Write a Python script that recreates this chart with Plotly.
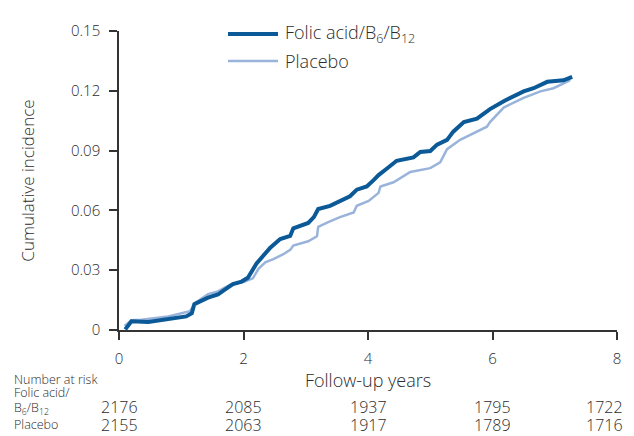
import plotly.graph_objects as go

# ---- data ----
folic_t = [0.10, 0.20, 0.47, 0.79, 1.08, 1.17, 1.21, 1.43, 1.59, 1.70, 1.83, 1.97, 2.07, 2.21,
           2.29, 2.43, 2.59, 2.75, 2.80, 3.04, 3.13, 3.20, 3.39, 3.55, 3.71, 3.82, 3.98, 4.09,
           4.17, 4.30, 4.46, 4.73, 4.84, 5.00, 5.11, 5.27, 5.37, 5.54, 5.64, 5.75, 5.96, 6.18,
           6.50, 6.66, 6.88, 7.14, 7.28]
folic_v = [0.0003, 0.0044, 0.0040, 0.0057, 0.0068, 0.0084, 0.0130, 0.0162, 0.0178, 0.0202,
           0.0230, 0.0243, 0.0262, 0.0334, 0.0364, 0.0413, 0.0456, 0.0472, 0.0510, 0.0537,
           0.0566, 0.0607, 0.0623, 0.0647, 0.0671, 0.0704, 0.0720, 0.0752, 0.0777, 0.0809,
           0.0849, 0.0866, 0.0893, 0.0898, 0.0930, 0.0954, 0.0995, 0.1043, 0.1050, 0.1060,
           0.1108, 0.1148, 0.1197, 0.1213, 0.1245, 0.1253, 0.1270]

placebo_t = [0.09, 0.20, 0.36, 0.79, 1.14, 1.23, 1.43, 1.59, 1.78, 2.02, 2.15, 2.24, 2.35,
             2.48, 2.64, 2.75, 2.80, 3.04, 3.18, 3.20, 3.37, 3.55, 3.77, 3.82, 4.01, 4.17,
             4.20, 4.41, 4.68, 5.00, 5.16, 5.27, 5.48, 5.70, 5.91, 5.96, 6.18, 6.50, 6.77,
             6.98, 7.25]
placebo_v = [0.0020, 0.0049, 0.0052, 0.0068, 0.0094, 0.0137, 0.0180, 0.0194, 0.0226, 0.0243,
             0.0259, 0.0307, 0.0340, 0.0356, 0.0380, 0.0402, 0.0424, 0.0445, 0.0470, 0.0518,
             0.0542, 0.0566, 0.0590, 0.0623, 0.0647, 0.0688, 0.0720, 0.0741, 0.0793, 0.0812,
             0.0841, 0.0907, 0.0954, 0.0987, 0.1020, 0.1043, 0.1116, 0.1165, 0.1197, 0.1213,
             0.1253]

risk_years = [0, 2, 4, 6, 8]
risk_folic = [2176, 2085, 1937, 1795, 1722]
risk_placebo = [2155, 2063, 1917, 1789, 1716]

y_ticks = [0, 0.03, 0.06, 0.09, 0.12, 0.15]
y_tick_text = ["0", "0.03", "0.06", "0.09", "0.12", "0.15"]
x_ticks = [0, 2, 4, 6, 8]

FOLIC_COLOR = "#0b5a97"
PLACEBO_COLOR = "#99b3da"
TEXT = "#2b2b2b"
FONT = "Open Sans"
W = 300

fig = go.Figure()
fig.add_trace(go.Scatter(x=placebo_t, y=placebo_v, mode="lines", name="Placebo",
                         line=dict(color=PLACEBO_COLOR, width=2.5), showlegend=False))
fig.add_trace(go.Scatter(x=folic_t, y=folic_v, mode="lines", name="Folic acid/B6/B12",
                         line=dict(color=FOLIC_COLOR, width=4), showlegend=False))

# plot area in window pixels: x 119..617, y 21..330
def px_x(p):
    return (p - 119) / 498

def px_y(p):
    return (330 - p) / 309

# manual legend
leg_items = [("Folic acid/B<sub>6</sub>/B<sub>12</sub>", FOLIC_COLOR, 4, 24),
             ("Placebo", PLACEBO_COLOR, 2.5, 52)]
for label, col, w, ypx in leg_items:
    fig.add_shape(type="line", xref="paper", yref="paper", x0=px_x(228), x1=px_x(278),
                  y0=px_y(ypx), y1=px_y(ypx), line=dict(color=col, width=w))
    fig.add_annotation(xref="paper", yref="paper", x=px_x(283), y=px_y(ypx), text=label,
                       showarrow=False, xanchor="left", yanchor="middle",
                       font=dict(size=18, color=TEXT, family=FONT, weight=W))

# number at risk table
lab_font = dict(size=12.5, color=TEXT, family=FONT, weight=W)
for txt, ypx in [("Number at risk", 381), ("Folic acid/", 395),
                 ("B<sub>6</sub>/B<sub>12</sub>", 411), ("Placebo", 428)]:
    fig.add_annotation(xref="paper", yref="paper", x=px_x(12), y=px_y(ypx),
                       text=txt, showarrow=False, xanchor="left", yanchor="middle", font=lab_font)
num_font = dict(size=16, color=TEXT, family=FONT, weight=W)
for vals, ypx in [(risk_folic, 410), (risk_placebo, 428)]:
    for i, (xv, n) in enumerate(zip(risk_years, vals)):
        fig.add_annotation(xref="x", yref="paper", x=xv, y=px_y(ypx), text=str(n),
                           showarrow=False, xanchor="center", yanchor="middle",
                           xshift=-13 if i == len(vals) - 1 else 0, font=num_font)

# page body has an 8px margin, so the figure is shifted by 8px in the window
fig.update_layout(
    width=626, height=428,
    margin=dict(l=111, r=17, t=13, b=106),
    paper_bgcolor="white", plot_bgcolor="white",
    font=dict(family=FONT, color=TEXT, weight=W),
    xaxis=dict(range=[0, 8], tickvals=x_ticks, ticks="outside", ticklen=8, tickwidth=1.5,
               tickcolor="#333", showline=True, linecolor="#333", linewidth=1.5,
               showgrid=False, zeroline=False, ticklabelstandoff=6,
               tickfont=dict(size=15, color=TEXT, family=FONT, weight=W),
               title=dict(text="Follow-up years",
                          font=dict(size=18, color=TEXT, family=FONT, weight=W), standoff=3)),
    yaxis=dict(range=[0, 0.15], tickvals=y_ticks, ticktext=y_tick_text, ticks="outside",
               ticklen=8, tickwidth=1.5, tickcolor="#333", showline=True, linecolor="#333",
               linewidth=1.5, showgrid=False, zeroline=False, ticklabelstandoff=6,
               tickfont=dict(size=15, color=TEXT, family=FONT, weight=W),
               title=dict(text="Cumulative incidence",
                          font=dict(size=17, color=TEXT, family=FONT, weight=W), standoff=32)),
)

fig.write_html("out.html")
